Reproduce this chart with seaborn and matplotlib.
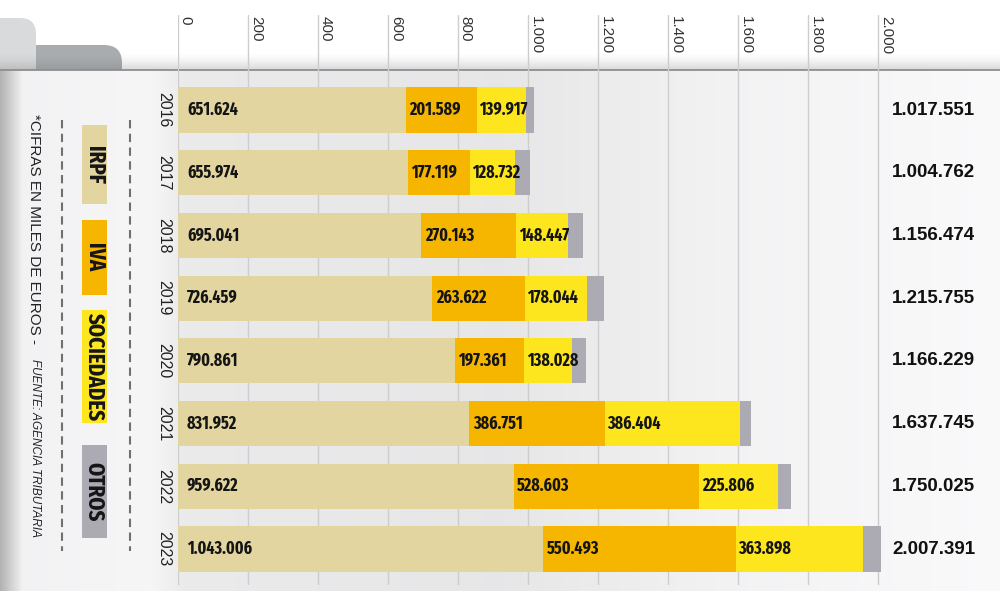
import numpy as np
import pandas as pd
import matplotlib
matplotlib.use("Agg")
import matplotlib.pyplot as plt
import seaborn as sns
from matplotlib import font_manager as fm
from matplotlib.patches import FancyBboxPatch, Rectangle

# ---------------- data ----------------
years = ["2016", "2017", "2018", "2019", "2020", "2021", "2022", "2023"]
irpf = [651.624, 655.974, 695.041, 726.459, 790.861, 831.952, 959.622, 1043.006]
iva = [201.589, 177.119, 270.143, 263.622, 197.361, 386.751, 528.603, 550.493]
sociedades = [139.917, 128.732, 148.447, 178.044, 138.028, 386.404, 225.806, 363.898]
totales = [1017.551, 1004.762, 1156.474, 1215.755, 1166.229, 1637.745, 1750.025, 2007.391]
series_names = ["IRPF", "IVA", "SOCIEDADES", "OTROS"]
x_ticks = [0, 200, 400, 600, 800, 1000, 1200, 1400, 1600, 1800, 2000]
x_tick_labels = ["0", "200", "400", "600", "800", "1.000", "1.200", "1.400", "1.600", "1.800", "2.000"]
note_main = "*CIFRAS EN MILES DE EUROS - "
note_source = "FUENTE: AGENCIA TRIBUTARIA"

colors = {"IRPF": "#e2d5a0", "IVA": "#f6b600", "SOCIEDADES": "#fde61e", "OTROS": "#acabb3"}

df = pd.DataFrame({"year": years, "IRPF": irpf, "IVA": iva,
                   "SOCIEDADES": sociedades, "TOTAL": totales})
df["OTROS"] = df["TOTAL"] - df["IRPF"] - df["IVA"] - df["SOCIEDADES"]
df["c1"] = df["IRPF"]
df["c2"] = df["c1"] + df["IVA"]
df["c3"] = df["c2"] + df["SOCIEDADES"]
df["c4"] = df["c3"] + df["OTROS"]


def fmt(v):
    return f"{int(round(v * 1000)):,}".replace(",", ".")


# ---------------- fonts ----------------
sns.set_theme(style="white")
names = {f.name for f in fm.fontManager.ttflist}
REG = "Liberation Sans" if "Liberation Sans" in names else "DejaVu Sans"
plt.rcParams["font.family"] = [REG, "DejaVu Sans"]


def find_condensed_bold():
    best = None
    for f in fm.fontManager.ttflist:
        st = str(f.stretch).lower()
        nm = f.name.lower()
        fn = f.fname.lower().replace("-", "").replace("_", "")
        cond = ("narrow" in nm or "condensed" in nm or "condensed" in st
                or "narrow" in fn or "condensed" in fn)
        try:
            w = int(f.weight)
        except (TypeError, ValueError):
            w = 700 if "bold" in str(f.weight).lower() else 400
        if not (cond and 600 <= w <= 800 and f.style == "normal"):
            continue
        if "semicondensed" in fn or "semi" in st:
            continue
        if "extracondensed" in fn or "extra" in st or "ultra" in st:
            score = 0
        elif "narrow" in nm or "narrow" in fn:
            score = 1
        elif "dejavu" in nm:
            score = 3
        else:
            score = 2
        if best is None or score < best[0]:
            best = (score, f.fname)
    return best if best else (9, None)


cond_score, cond_path = find_condensed_bold()
if cond_path and cond_score == 0:
    LBL_FP = fm.FontProperties(fname=cond_path, size=12.5)
    LEG_FP = fm.FontProperties(fname=cond_path, size=16.5)
elif cond_path:
    LBL_FP = fm.FontProperties(fname=cond_path, size=11)
    LEG_FP = fm.FontProperties(fname=cond_path, size=13)
else:
    LBL_FP = fm.FontProperties(family=REG, weight="bold", size=10.5)
    LEG_FP = fm.FontProperties(family=REG, weight="bold", size=11.5)

W, H = 1000, 591
fig = plt.figure(figsize=(10, 5.91), dpi=100)
fig.patch.set_facecolor("white")

# ---------------- background / decoration (pixel coords) ----------------
bg = fig.add_axes([0, 0, 1, 1], zorder=0)
bg.set_xlim(0, W)
bg.set_ylim(H, 0)
bg.set_axis_off()

bg.add_patch(FancyBboxPatch((20, 45), 102, 60, boxstyle="round,pad=0,rounding_size=18",
                            fc="#a8acaf", ec="none", zorder=1))
bg.add_patch(FancyBboxPatch((-30, 18), 66, 80, boxstyle="round,pad=0,rounding_size=16",
                            fc="#d9dadb", ec="none", zorder=2))

xs = np.arange(W)
kx = [0, 22, 150, 185, 500, 720, 1000]
kv = [0.70, 0.95, 0.965, 0.92, 0.905, 0.95, 0.98]
row = np.interp(xs, kx, kv)
img = np.dstack([row, row, row + 0.005]).clip(0, 1)
bg.imshow(img, extent=[0, W, H, 70], aspect="auto", zorder=3, interpolation="bilinear")

sh = np.zeros((20, 1, 4))
a = np.linspace(0, 0.45, 20) ** 1.6
sh[:, 0, :3] = 0.45
sh[:, 0, 3] = a
bg.imshow(sh, extent=[0, W, 70, 52], aspect="auto", zorder=4, interpolation="bilinear")
bg.plot([0, W], [70, 70], color="#8e8e8e", lw=1.3, zorder=5)

legend_boxes = [(125, 204), (220, 295), (310, 423), (445, 538)]
for name, (y0, y1) in zip(series_names, legend_boxes):
    bg.add_patch(Rectangle((82, y0), 25, y1 - y0, fc=colors[name], ec="none", zorder=6))
    bg.text(94.5, (y0 + y1) / 2, name, rotation=270, ha="center", va="center",
            fontproperties=LEG_FP, color="#151515", zorder=7)
for xd in (62, 130):
    bg.plot([xd, xd], [120, 551], color="#707070", lw=1.5,
            linestyle=(0, (4, 2.6)), zorder=6)

bg.text(34, 114, note_main, rotation=270, ha="center", va="top",
        fontsize=11, color="#222222", zorder=7)
bg.text(34.5, 359, note_source, rotation=270, ha="center", va="top",
        fontsize=8.5, fontstyle="italic", color="#222222", zorder=7)

# ---------------- main chart ----------------
XMAX = 2020
ax = fig.add_axes([178 / W, 6 / H, 350 * XMAX / 1000 / W, 570 / H], zorder=2)
ax.patch.set_alpha(0)

layers = [("c4", "OTROS"), ("c3", "SOCIEDADES"), ("c2", "IVA"), ("c1", "IRPF")]
for col, name in layers:
    sns.barplot(data=df, x=col, y="year", order=years, orient="h", color=colors[name],
                saturation=1, width=0.72, linewidth=0, edgecolor="none", ax=ax, zorder=3)

ax.set_xlim(0, XMAX)
ax.set_ylim(7.574, -1.515)
for s in ax.spines.values():
    s.set_visible(False)
ax.set_xlabel("")
ax.set_ylabel("")

ax.set_xticks(x_ticks)
ax.set_xticklabels([])
ax.tick_params(axis="x", length=0, bottom=False, top=False)
ax.grid(axis="x", color="#cdcdcd", lw=1.0, zorder=0)
ax.grid(axis="y", visible=False)
ax.set_axisbelow(True)
for v, lab in zip(x_ticks, x_tick_labels):
    ax.annotate(lab, xy=(v, 1), xycoords=("data", "axes fraction"), xytext=(0.6, -0.5),
                textcoords="offset points", rotation=270, ha="left", va="top",
                fontsize=11, color="#333333", annotation_clip=False)

ax.tick_params(axis="y", length=0, pad=5, labelsize=11.5, labelcolor="#222222")
for lbl in ax.get_yticklabels():
    lbl.set_rotation(270)
    lbl.set_va("center")
    lbl.set_family(REG)

for i, r in df.iterrows():
    segs = [(0, r["IRPF"], 6.5), (r["c1"], r["IVA"], 2.5), (r["c2"], r["SOCIEDADES"], 2.0)]
    for start, val, off in segs:
        ax.annotate(fmt(val), xy=(start, i), xytext=(off, 0), textcoords="offset points",
                    ha="left", va="center", fontproperties=LBL_FP,
                    color="#151515", zorder=5)
    ax.annotate(fmt(r["TOTAL"]), xy=(2000, i), xycoords="data",
                xytext=(10, 0), textcoords="offset points", ha="left", va="center",
                fontsize=13.5, fontweight="bold", color="#111111", annotation_clip=False)

fig.savefig("out.png", dpi=100)
